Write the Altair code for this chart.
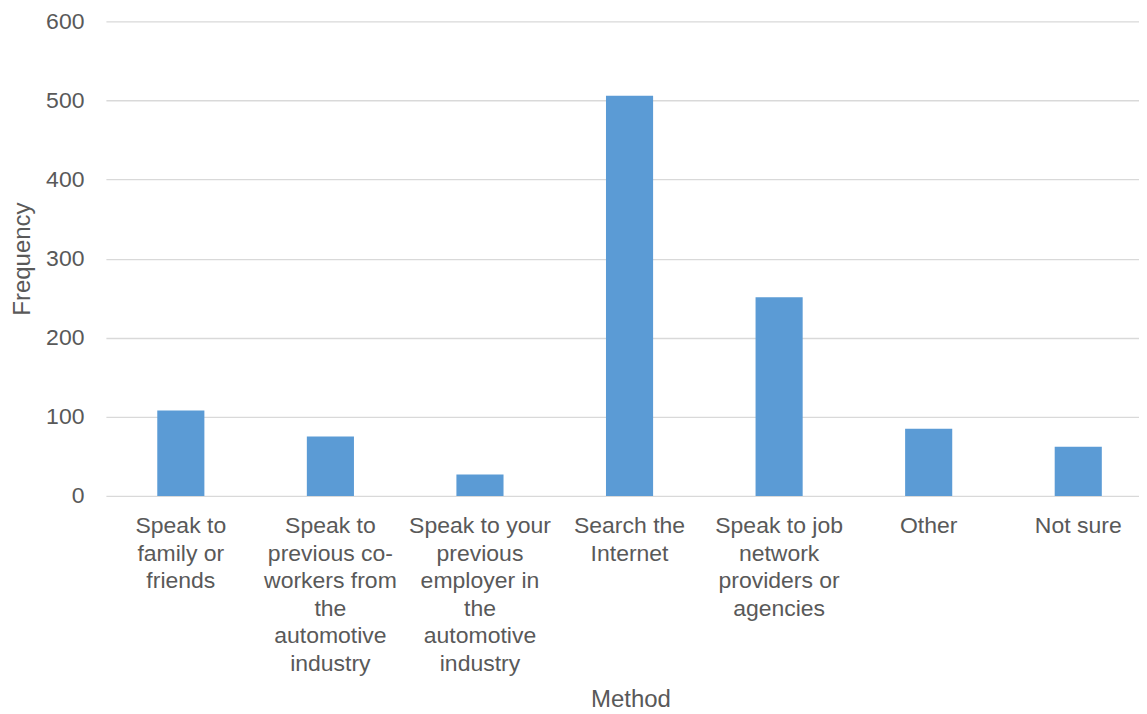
import altair as alt
import pandas as pd

categories = [
    "Speak to|family or|friends",
    "Speak to|previous co-|workers from|the|automotive|industry",
    "Speak to your|previous|employer in|the|automotive|industry",
    "Search the|Internet",
    "Speak to job|network|providers or|agencies",
    "Other",
    "Not sure",
]
frequency = [108, 75, 27, 506, 251, 85, 62]

df = pd.DataFrame({"Method": categories, "Frequency": frequency})

FONT = "Liberation Sans"
GREY = "#595959"

chart = (
    alt.Chart(df)
    .mark_bar(color="#5b9bd5")
    .encode(
        x=alt.X(
            "Method:N",
            sort=None,
            title="Method",
            scale=alt.Scale(paddingInner=0.685, paddingOuter=0.296, align=0.58),
            axis=alt.Axis(
                labelAngle=0,
                labelAlign="center",
                labelBaseline="top",
                labelExpr="split(datum.label, '|')",
                labelLineHeight=27.5,
                labelPadding=19,
                labelFontSize=23,
                labelColor=GREY,
                labelFont=FONT,
                titleFont=FONT,
                titleFontSize=24,
                titleFontWeight="normal",
                titleColor=GREY,
                titlePadding=12,
                titleX=525,
                domain=False,
                ticks=False,
                grid=False,
            ),
        ),
        y=alt.Y(
            "Frequency:Q",
            title="Frequency",
            scale=alt.Scale(domain=[0, 600]),
            axis=alt.Axis(
                values=[0, 100, 200, 300, 400, 500, 600],
                labelFontSize=23,
                labelColor=GREY,
                labelFont=FONT,
                labelPadding=22,
                titleFont=FONT,
                titleFontSize=24,
                titleFontWeight="normal",
                titleColor=GREY,
                titlePadding=11,
                domain=False,
                ticks=False,
                gridColor="#d9d9d9",
                gridWidth=1.3,
            ),
        ),
    )
    .properties(
        width=1034,
        height=475,
        padding={"left": 2, "top": 2, "right": 0, "bottom": 0},
    )
    .configure_view(stroke=None)
)

chart.save("out.html", embed_options={"renderer": "svg", "actions": False})
